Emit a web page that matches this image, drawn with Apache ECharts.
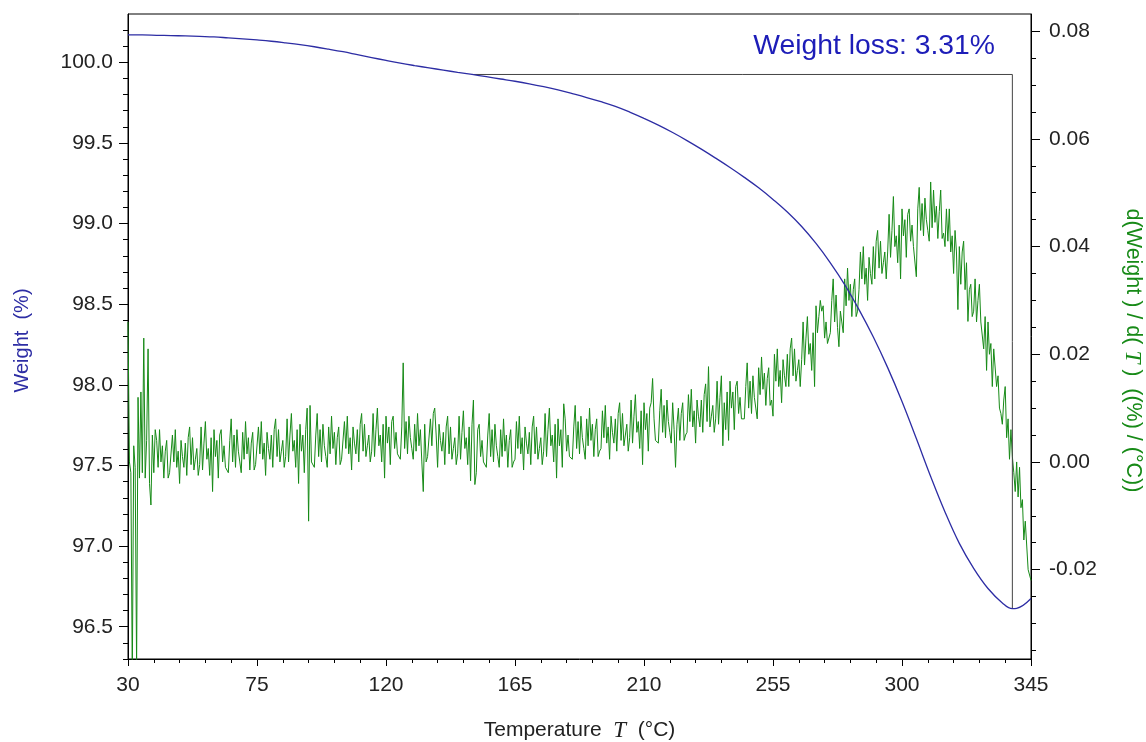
<!DOCTYPE html>
<html><head><meta charset="utf-8">
<script src="https://cdn.jsdelivr.net/npm/echarts@6/dist/echarts.min.js"></script>
<style>html,body{margin:0;padding:0;background:#fff}#c{width:1146px;height:742px}</style>
</head><body><div id="c"></div>
<script>
// Weight curve (TGA)
const weightTemps = [30,35,40,45,50,55,60,65,70,75,80,85,90,95,100,105,110,115,120,125,130,135,140,145,150,155,160,165,170,175,180,185,190,195,200,205,210,215,220,225,230,235,240,245,250,255,260,265,270,275,280,285,290,295,300,305,310,315,320,325,330,335,338.5,340,345];
const weightValues = [100.170,100.170,100.168,100.166,100.164,100.161,100.158,100.152,100.146,100.139,100.131,100.121,100.110,100.097,100.082,100.066,100.048,100.030,100.012,99.995,99.980,99.966,99.952,99.938,99.925,99.911,99.897,99.883,99.867,99.849,99.829,99.806,99.782,99.756,99.727,99.692,99.653,99.611,99.565,99.515,99.462,99.406,99.348,99.287,99.222,99.150,99.072,98.982,98.877,98.757,98.622,98.467,98.297,98.107,97.897,97.667,97.432,97.212,97.017,96.862,96.737,96.648,96.612,96.614,96.675];

// Derivative curve (DTG), sampled every 0.5 °C
const dtgTemps = [
30,30.5,31,31.5,32,32.5,33,33.5,34,34.5, 35,35.5,36,36.5,37,37.5,38,38.5,39,39.5,
40,40.5,41,41.5,42,42.5,43,43.5,44,44.5, 45,45.5,46,46.5,47,47.5,48,48.5,49,49.5,
50,50.5,51,51.5,52,52.5,53,53.5,54,54.5, 55,55.5,56,56.5,57,57.5,58,58.5,59,59.5,
60,60.5,61,61.5,62,62.5,63,63.5,64,64.5, 65,65.5,66,66.5,67,67.5,68,68.5,69,69.5,
70,70.5,71,71.5,72,72.5,73,73.5,74,74.5, 75,75.5,76,76.5,77,77.5,78,78.5,79,79.5,
80,80.5,81,81.5,82,82.5,83,83.5,84,84.5, 85,85.5,86,86.5,87,87.5,88,88.5,89,89.5,
90,90.5,91,91.5,92,92.5,93,93.5,94,94.5, 95,95.5,96,96.5,97,97.5,98,98.5,99,99.5,
100,100.5,101,101.5,102,102.5,103,103.5,104,104.5, 105,105.5,106,106.5,107,107.5,108,108.5,109,109.5,
110,110.5,111,111.5,112,112.5,113,113.5,114,114.5, 115,115.5,116,116.5,117,117.5,118,118.5,119,119.5,
120,120.5,121,121.5,122,122.5,123,123.5,124,124.5, 125,125.5,126,126.5,127,127.5,128,128.5,129,129.5,
130,130.5,131,131.5,132,132.5,133,133.5,134,134.5, 135,135.5,136,136.5,137,137.5,138,138.5,139,139.5,
140,140.5,141,141.5,142,142.5,143,143.5,144,144.5, 145,145.5,146,146.5,147,147.5,148,148.5,149,149.5,
150,150.5,151,151.5,152,152.5,153,153.5,154,154.5, 155,155.5,156,156.5,157,157.5,158,158.5,159,159.5,
160,160.5,161,161.5,162,162.5,163,163.5,164,164.5, 165,165.5,166,166.5,167,167.5,168,168.5,169,169.5,
170,170.5,171,171.5,172,172.5,173,173.5,174,174.5, 175,175.5,176,176.5,177,177.5,178,178.5,179,179.5,
180,180.5,181,181.5,182,182.5,183,183.5,184,184.5, 185,185.5,186,186.5,187,187.5,188,188.5,189,189.5,
190,190.5,191,191.5,192,192.5,193,193.5,194,194.5, 195,195.5,196,196.5,197,197.5,198,198.5,199,199.5,
200,200.5,201,201.5,202,202.5,203,203.5,204,204.5, 205,205.5,206,206.5,207,207.5,208,208.5,209,209.5,
210,210.5,211,211.5,212,212.5,213,213.5,214,214.5, 215,215.5,216,216.5,217,217.5,218,218.5,219,219.5,
220,220.5,221,221.5,222,222.5,223,223.5,224,224.5, 225,225.5,226,226.5,227,227.5,228,228.5,229,229.5,
230,230.5,231,231.5,232,232.5,233,233.5,234,234.5, 235,235.5,236,236.5,237,237.5,238,238.5,239,239.5,
240,240.5,241,241.5,242,242.5,243,243.5,244,244.5, 245,245.5,246,246.5,247,247.5,248,248.5,249,249.5,
250,250.5,251,251.5,252,252.5,253,253.5,254,254.5, 255,255.5,256,256.5,257,257.5,258,258.5,259,259.5,
260,260.5,261,261.5,262,262.5,263,263.5,264,264.5, 265,265.5,266,266.5,267,267.5,268,268.5,269,269.5,
270,270.5,271,271.5,272,272.5,273,273.5,274,274.5, 275,275.5,276,276.5,277,277.5,278,278.5,279,279.5,
280,280.5,281,281.5,282,282.5,283,283.5,284,284.5, 285,285.5,286,286.5,287,287.5,288,288.5,289,289.5,
290,290.5,291,291.5,292,292.5,293,293.5,294,294.5, 295,295.5,296,296.5,297,297.5,298,298.5,299,299.5,
300,300.5,301,301.5,302,302.5,303,303.5,304,304.5, 305,305.5,306,306.5,307,307.5,308,308.5,309,309.5,
310,310.5,311,311.5,312,312.5,313,313.5,314,314.5, 315,315.5,316,316.5,317,317.5,318,318.5,319,319.5,
320,320.5,321,321.5,322,322.5,323,323.5,324,324.5, 325,325.5,326,326.5,327,327.5,328,328.5,329,329.5,
330,330.5,331,331.5,332,332.5,333,333.5,334,334.5, 335,335.5,336,336.5,337,337.5,338,338.5,339,339.5,
340,340.5,341,341.5,342,342.5,343,343.5,344,344.5, 345];
const dtgValues = [
.026,.000,-.002,-.040,.003,-.001,-.038,.012,-.003,.013, -.002,.023,-.003,.004,.021,-.004,-.008,.005,-.002,.006,
.004,-.001,.006,.000,.003,-.003,.002,.004,-.003,-.002, -.002,.005,.000,.006,-.001,.002,-.004,.004,.001,-.001,
.0035,-.0025,.0045,.0065,-.0005,.0045,-.0015,.0005,.0025,-.0025, -.0005,.0065,-.0015,.0035,.0075,.0005,.0025,-.0025,.0045,-.0055,
.006,.001,.004,-.003,.005,.006,.000,.003,-.001,-.001, -.002,.004,.008,.000,.005,-.001,.006,.002,.000,-.002,
.0055,.0005,.0075,.0015,.0045,-.0015,.0035,.0055,-.0015,-.0005, -.0005,.0065,.0015,.0075,.0005,.0035,-.0025,.0055,.0025,.0005,
.005,-.001,.006,.008,.001,.006,.000,.002,.004,-.001, .001,.008,.000,.005,.009,.002,.004,-.001,.006,-.004,
.007,.002,.005,-.002,.006,.010,-.011,.0105,.000,.000, -.001,.005,.009,.001,.006,.000,.007,.003,.001,-.001,
.0065,.0015,.0085,.0025,.0055,-.0005,.0045,.0065,-.0005,.0005, .0005,.0075,.0025,.0085,.0015,.0045,-.0015,.0065,.0035,.0015,
.006,.000,.007,.009,.002,.007,.001,.003,.005,.000, .002,.009,.001,.006,.010,.003,.005,.000,.007,-.003,
.0085,.0035,.0065,-.0005,.0075,.0085,.0025,.0055,.0015,.0015, .0005,.0065,.0184,.0025,.0075,.0015,.0085,.0045,.0025,.0005,
.007,.002,.009,.003,.006,.000,-.0055,.007,.000,.001, .001,.008,.003,.009,.010,.005,-.001,.007,.004,.002,
.0055,-.0005,.0065,.0085,.0015,.0065,.0005,.0025,.0045,-.0005, .0015,.0085,.0005,.0055,.0095,.0025,.0045,-.0005,.0065,-.0035,
.007,.0115,-.0042,-.002,.006,.007,.001,.004,.000,.000, -.001,.005,.009,.001,.006,.000,.007,.003,.001,-.001,
.006,.001,.008,.002,.005,-.001,.004,.006,-.001,.000, .0005,.0075,.0025,.0085,.0015,.0045,-.0015,.0065,.0035,.0015,
.0055,-.0005,.0065,.0085,.0015,.0065,.0005,.0025,.0045,-.0005, .002,.009,.001,.006,.010,.003,.005,.000,.007,-.003,
.008,.003,.006,-.001,.0108,.008,.002,.005,.001,.001, .0005,.0065,.0105,.0025,.0075,.0015,.0085,.0045,.0025,.0005,
.008,.003,.010,.004,.007,.001,.006,.008,.001,.002, .0025,.0095,.0045,.0105,.0035,.0065,.0005,.0085,.0055,.0035,
.008,.002,.009,.011,.004,.009,.003,.005,.007,.002, .0045,.0115,.0035,.0085,.0125,.0055,.0075,.0025,.0095,-.0005,
.011,.006,.009,.002,.010,.011,.0155,.008,.004,.004, .0035,.0095,.0135,.0055,.0105,.0045,.0115,.0075,.0055,.0035,
.011,.006,-.001,.007,.010,.004,.009,.011,.004,.005, .0055,.0125,.0075,.0135,.0065,.0095,.0035,.0115,.0085,.0065,
.0115,.0055,.0125,.0145,.0075,.0177,.0065,.0085,.0105,.0055, .008,.015,.007,.012,.016,.003,.011,.006,.013,.004,
.015,.010,.013,.006,.014,.015,.009,.012,.008,.008, .008,.014,.0184,.010,.015,.009,.016,.012,.010,.008,
.0175,.0125,.0195,.0135,.0165,.0105,.0155,.0175,.0105,.0115, .0085,.020,.015,.021,.014,.017,.011,.019,.016,.014,
.020,.014,.021,.023,.016,.021,.015,.017,.019,.014, .019,.026,.018,.023,.027,.020,.022,.017,.024,.014,
.029,.024,.027,.030,.028,.029,.023,.026,.022,.022, .024,.030,.034,.026,.031,.025,.0214,.028,.026,.024,
.034,.029,.036,.030,.033,.027,.032,.034,.027,.028, .032,.039,.034,.040,.033,.036,.030,.038,.035,.033,
.040,.034,.041,.043,.036,.041,.035,.037,.039,.034, .039,.046,.038,.043,.0493,.040,.042,.037,.044,.034,
.047,.042,.045,.038,.046,.047,.041,.044,.040,.040, .0344,.047,.051,.043,.048,.042,.049,.045,.043,.041,
.052,.0435,.0505,.0445,.0475,.0415,.0465,.0505,.0415,.0425, .040,.047,.041,.047,.039,.042,.035,.043,.039,.0283,
.040,.033,.039,.041,.032,.037,.0261,.032,.033,.027, .028,.034,.026,.030,.033,.026,.026,.021,.027,.017,
.026,.020,.022,.014,.021,.021,.014,.016,.010,.009, .007,.0115,.014,.0045,.008,.0005,.006,.001,-.002,-.0055,
.000,-.0065,-.001,-.0085,-.007,-.0145,-.011,-.011,-.020,-.021, -.022];

// Weight-loss bracket
const bracketTemps = [150, 338.5, 338.5];
const bracketWeights = [99.925, 99.925, 96.612];

// Axis ticks
const weightMajorTicks = [96.5,97.0,97.5,98.0,98.5,99.0,99.5,100.0];
const weightMinorTicks = [96.3,96.4,96.5,96.6,96.7,96.8,96.9,97.0,97.1,97.2,97.3,97.4,97.5,97.6,97.7,97.8,97.9,98.0,98.1,98.2,98.3,98.4,98.5,98.6,98.7,98.8,98.9,99.0,99.1,99.2,99.3,99.4,99.5,99.6,99.7,99.8,99.9,100.0,100.1,100.2];
const dtgMajorTicks = [-0.02,0,0.02,0.04,0.06,0.08];
const dtgMinorTicks = [-0.035,-0.03,-0.025,-0.02,-0.015,-0.01,-0.005,0,0.005,0.01,0.015,0.02,0.025,0.03,0.035,0.04,0.045,0.05,0.055,0.06,0.065,0.07,0.075,0.08];

const FONT = 'Liberation Sans, Arial, sans-serif';
const BLUE = '#2d2da4';
const GREEN = '#178a17';

const chart = echarts.init(document.getElementById('c'), null, {renderer: 'canvas'});
const wMin = 96.3, wMax = 100.3, dMin = -0.0366, dMax = 0.0832;
chart.setOption({
  animation: false,
  backgroundColor: '#fff',
  title: {
    text: 'Weight loss: 3.31%', right: 146, top: 27,
    textStyle: {color: '#1d1db8', fontSize: 28.3, fontWeight: 'normal', fontFamily: FONT}
  },
  grid: {left: 128, top: 14, right: 115, bottom: 83, show: true, borderColor: '#000', borderWidth: 1, outerBoundsMode: 'none'},
  xAxis: {
    type: 'value', min: 30, max: 345, interval: 45,
    axisLine: {show: true, onZero: false, lineStyle: {color: '#000', width: 1}},
    axisTick: {show: true, length: 7, lineStyle: {color: '#000'}},
    minorTick: {show: true, splitNumber: 5, length: 4, lineStyle: {color: '#000'}},
    splitLine: {show: false},
    axisLabel: {fontSize: 21, color: '#222', margin: 16, fontFamily: FONT},
    name: 'Temperature  {i|T}  (°C)', nameLocation: 'middle', nameGap: 60,
    nameTextStyle: {fontSize: 21, color: '#222', fontFamily: FONT,
      rich: {i: {fontStyle: 'italic', fontFamily: 'Liberation Serif, serif', fontSize: 23, color: '#222'}}}
  },
  yAxis: [
    {
      type: 'value', position: 'left', min: wMin, max: wMax,
      axisLine: {show: true, onZero: false, lineStyle: {color: '#000', width: 1}},
      axisTick: {show: true, length: 9, customValues: weightMajorTicks, lineStyle: {color: '#000'}},
      axisLabel: {customValues: weightMajorTicks, formatter: v => v.toFixed(1), fontSize: 21, color: '#222', margin: 15, fontFamily: FONT},
      splitLine: {show: false},
      name: 'Weight  (%)', nameLocation: 'middle', nameGap: 96, nameRotate: 90,
      nameTextStyle: {color: BLUE, fontSize: 20, fontFamily: FONT, padding: [0, 8, 0, 0]}
    },
    {
      type: 'value', position: 'right', min: dMin, max: dMax,
      axisLine: {show: true, onZero: false, lineStyle: {color: '#000', width: 1}},
      axisTick: {show: true, length: 9, customValues: dtgMajorTicks, lineStyle: {color: '#000'}},
      axisLabel: {customValues: dtgMajorTicks, formatter: v => v.toFixed(2), fontSize: 21, color: '#222', margin: 18, fontFamily: FONT},
      splitLine: {show: false},
      name: 'd(Weight ) / d( {i|T} )  ((%) / (°C))', nameLocation: 'middle', nameGap: 90, nameRotate: -90,
      nameTextStyle: {color: GREEN, fontSize: 21.5, fontFamily: FONT, padding: [0, 0, 0, 28],
        rich: {i: {fontStyle: 'italic', fontFamily: 'Liberation Serif, serif', fontSize: 23, color: GREEN}}}
    },
    {
      type: 'value', position: 'left', min: wMin, max: wMax,
      axisLine: {show: false},
      axisTick: {show: true, length: 5, customValues: weightMinorTicks, lineStyle: {color: '#000'}},
      axisLabel: {show: false}, splitLine: {show: false}
    },
    {
      type: 'value', position: 'right', min: dMin, max: dMax,
      axisLine: {show: false},
      axisTick: {show: true, length: 5, customValues: dtgMinorTicks, lineStyle: {color: '#000'}},
      axisLabel: {show: false}, splitLine: {show: false}
    }
  ],
  series: [
    {
      name: 'DTG', type: 'line', yAxisIndex: 1, showSymbol: false, symbol: 'none',
      data: dtgTemps.map((t, i) => [t, dtgValues[i]]),
      lineStyle: {color: GREEN, width: 1}, z: 2, clip: true
    },
    {
      name: 'bracket', type: 'line', yAxisIndex: 0, showSymbol: false, symbol: 'none',
      data: bracketTemps.map((t, i) => [t, bracketWeights[i]]),
      lineStyle: {color: '#444', width: 1}, z: 3
    },
    {
      name: 'Weight', type: 'line', yAxisIndex: 0, showSymbol: false, symbol: 'none', smooth: 0.4,
      data: weightTemps.map((t, i) => [t, weightValues[i]]),
      lineStyle: {color: BLUE, width: 1.3}, z: 4
    }
  ]
});
</script></body></html>
